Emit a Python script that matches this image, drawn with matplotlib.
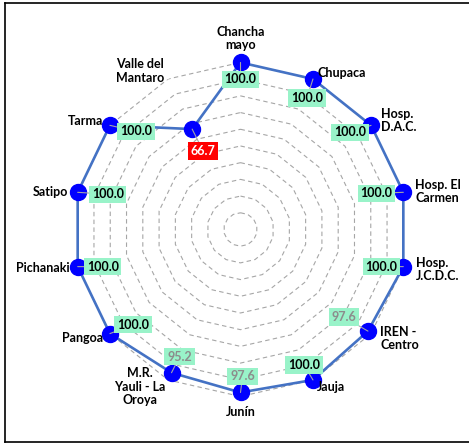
import numpy as np
import matplotlib
matplotlib.use('Agg')
import matplotlib.pyplot as plt
from matplotlib.lines import Line2D

# ------------------------------ data ------------------------------
categories = ['Chancha\nmayo', 'Chupaca', 'Hosp.\nD.A.C.', 'Hosp. El\nCarmen', 'Hosp.\nJ.C.D.C.',
              'IREN -\nCentro', 'Jauja', 'Junín', 'M.R.\nYauli - La\nOroya', 'Pangoa',
              'Pichanaki', 'Satipo', 'Tarma', 'Valle del\nMantaro']
values = [100.0, 100.0, 100.0, 100.0, 100.0, 97.6, 100.0, 97.6, 95.2, 100.0,
          100.0, 100.0, 100.0, 66.7]
rings = [10, 20, 30, 40, 50, 60, 70, 80, 90, 100]

# label placement (pixels) -- tuned by eye
cat_off = [(0, 24, 'center'), (5, 6, 'left'), (10, 5, 'left'), (12, 1, 'left'), (13, -3, 'left'),
           (9, -5, 'left'), (4, -7, 'left'), (0, -16, 'center'), (-28, -7, 'center'),
           (-7, -4, 'right'), (-8, -1, 'right'), (-10, 0, 'right'), (-7, 4, 'right'),
           (-28, 8, 'center')]
val_off = [(0, -17), (-6, -19), (-21, -7), (-27, -1), (-22, 0), (-24, 14), (-9, 15),
           (2, 16), (8, 16), (23, 9), (25, 0), (30, -2), (26, -6), (11, -22)]

FONT = 'Lato'

n = len(categories)
theta = np.arange(n) * 2 * np.pi / n
theta_c = np.append(theta, theta[0])

fig = plt.figure(figsize=(4.69, 4.43), dpi=100)
ax = fig.add_axes([0.1567, 0.105, 0.7122, 0.754], projection='polar')
ax.set_theta_zero_location('N')
ax.set_theta_direction(-1)
ax.set_ylim(0, 100)
ax.axis('off')

# dashed polygon grid
for r in rings:
    ax.plot(theta_c, [r] * (n + 1), color='#a6a6a6', lw=0.8, ls=(0, (4, 3)), zorder=1)

vals_c = np.append(values, values[0])
ax.plot(theta_c, vals_c, color='#4472C4', lw=1.9, zorder=3)
ax.plot(theta, values, 'o', color='#0000FF', ms=11.5, zorder=4, clip_on=False)

# category labels
for i, name in enumerate(categories):
    dx, dy, ha = cat_off[i]
    ax.annotate(name, (theta[i], 100), xytext=(dx, dy), textcoords='offset pixels',
                ha=ha, va='center', fontsize=9, fontweight='bold', family=FONT,
                linespacing=1.15, annotation_clip=False, zorder=6)

# value labels
for i, v in enumerate(values):
    if v < 70:
        fc, tc = '#FF0000', 'white'
    elif v < 100:
        fc, tc = '#99F3C9', '#8c8c8c'
    else:
        fc, tc = '#99F3C9', 'black'
    ax.annotate('%.1f' % v, (theta[i], v), xytext=val_off[i], textcoords='offset pixels',
                ha='center', va='center', fontsize=9, fontweight='bold', family=FONT,
                color=tc, annotation_clip=False, zorder=7,
                bbox=dict(boxstyle='square,pad=0.22', fc=fc, ec='none'),
                arrowprops=dict(arrowstyle='-', color='#a6a6a6', lw=0.8, shrinkA=0, shrinkB=0))

# outer frame (top, left, bottom)
W, H = 469.0, 443.0
fig.add_artist(Line2D([4.5 / W, 1], [1 - 2.5 / H, 1 - 2.5 / H], transform=fig.transFigure, color='black', lw=1.2))
fig.add_artist(Line2D([4.5 / W, 4.5 / W], [1.5 / H, 1 - 2.5 / H], transform=fig.transFigure, color='black', lw=1.2))
fig.add_artist(Line2D([4.5 / W, 1], [1.5 / H, 1.5 / H], transform=fig.transFigure, color='black', lw=1.2))

fig.savefig('out.png', dpi=100)
